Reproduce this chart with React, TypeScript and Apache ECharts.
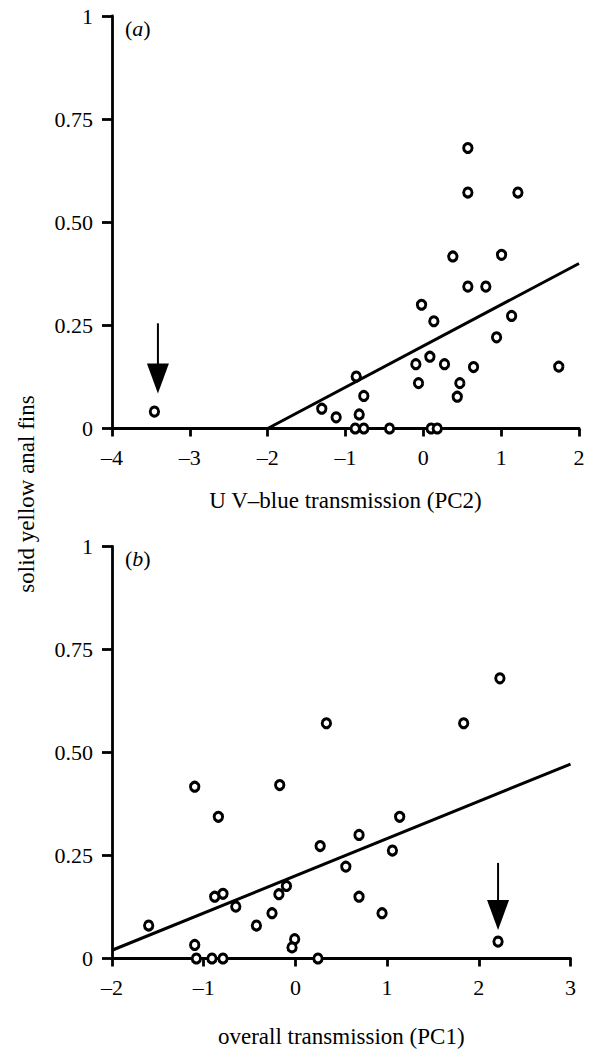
import React, { useEffect, useRef } from "react";
import * as echarts from "echarts";

// ---------- data ----------
const yTickLabels = ["0", "0.25", "0.50", "0.75", "1"];
const xTickLabelsA = ["–4", "–3", "–2", "–1", "0", "1", "2"];
const xTickLabelsB = ["–2", "–1", "0", "1", "2", "3"];

const xTitleA = "U V–blue transmission (PC2)";
const xTitleB = "overall transmission (PC1)";
const yTitle = "solid yellow anal fins";

// panel (a): [PC2, proportion]
const pointsA: number[][] = [
  [0.572, 0.68], [0.572, 0.572], [1.215, 0.572], [0.379, 0.417], [1.005, 0.421],
  [0.572, 0.344], [0.803, 0.344], [-0.023, 0.3], [0.135, 0.26], [1.134, 0.273],
  [0.941, 0.221], [-0.096, 0.156], [0.084, 0.174], [0.272, 0.156], [0.645, 0.149],
  [-0.062, 0.11], [0.469, 0.11], [0.436, 0.077], [-0.862, 0.126], [-0.765, 0.079],
  [-1.305, 0.048], [-1.12, 0.027], [-0.824, 0.034], [-0.875, 0], [-0.765, 0],
  [-0.434, 0], [0.1, 0], [0.179, 0], [1.74, 0.15], [-3.455, 0.041],
];
const regressionA: number[][] = [[-2, 0], [2, 0.4]];
// arrow: [x, yTop, yTip]
const arrowA: number[][] = [[-3.41, 0.255, 0.085]];

// panel (b): [PC1, proportion]
const pointsB: number[][] = [
  [0.338, 0.571], [-1.098, 0.417], [-0.171, 0.421], [-0.84, 0.344], [0.27, 0.273],
  [0.55, 0.223], [-0.098, 0.176], [-0.18, 0.156], [-0.79, 0.157], [-0.88, 0.15],
  [-0.65, 0.126], [-0.255, 0.11], [-0.425, 0.08], [-1.6, 0.08], [-1.098, 0.033],
  [-0.008, 0.047], [-0.037, 0.027], [-1.08, 0], [-0.91, 0], [-0.79, 0],
  [0.246, 0], [2.23, 0.68], [1.835, 0.571], [1.137, 0.344], [0.694, 0.3],
  [1.058, 0.262], [0.694, 0.15], [0.945, 0.11], [2.21, 0.041],
];
const regressionB: number[][] = [[-2, 0.02], [3, 0.472]];
const arrowB: number[][] = [[2.21, 0.232, 0.069]];

// ---------- style ----------
const FONT = "Liberation Serif";
const TICK_FONT = 22;
const TITLE_FONT = 23;
const AXIS_W = 2.8;

function App() {
  const ref = useRef<HTMLDivElement>(null);

  useEffect(() => {
    document.body.style.margin = "0";
    if (!ref.current) return;
    const chart = echarts.init(ref.current, undefined, { renderer: "svg" });

    const yAxisCommon = (gridIndex: number) => ({
      type: "value" as const,
      gridIndex,
      min: 0,
      max: 1,
      interval: 0.25,
      axisLine: { show: true, onZero: false, lineStyle: { color: "#000", width: AXIS_W } },
      axisTick: { show: true, inside: false, length: 10, lineStyle: { color: "#000", width: AXIS_W } },
      axisLabel: {
        margin: 19,
        color: "#000",
        fontFamily: FONT,
        fontSize: TICK_FONT,
        formatter: (v: number) => yTickLabels[Math.round(v / 0.25)] ?? "",
      },
      splitLine: { show: false },
    });

    const xAxisCommon = (gridIndex: number, min: number, max: number, labels: string[], name: string, nameGap: number) => ({
      type: "value" as const,
      gridIndex,
      min,
      max,
      interval: 1,
      name,
      nameLocation: "middle" as const,
      nameGap,
      nameTextStyle: { color: "#000", fontFamily: FONT, fontSize: TITLE_FONT },
      axisLine: { show: true, onZero: false, lineStyle: { color: "#000", width: AXIS_W } },
      axisTick: { show: true, inside: false, length: 8, lineStyle: { color: "#000", width: AXIS_W } },
      axisLabel: {
        margin: 18,
        color: "#000",
        fontFamily: FONT,
        fontSize: TICK_FONT,
        formatter: (v: number) => labels[Math.round(v - min)] ?? "",
      },
      splitLine: { show: false },
    });

    const scatterStyle = {
      type: "scatter" as const,
      symbol: "circle",
      symbolSize: [8.4, 9],
      itemStyle: { color: "#fff", borderColor: "#000", borderWidth: 3, opacity: 1 },
      z: 5,
    };

    const lineStyle = {
      type: "line" as const,
      showSymbol: false,
      symbol: "none",
      lineStyle: { color: "#000", width: 3 },
      z: 3,
    };

    const arrowRender = (params: any, api: any) => {
      const top = api.coord([api.value(0), api.value(1)]);
      const tip = api.coord([api.value(0), api.value(2)]);
      const headLen = 30;
      const headHalf = 11;
      return {
        type: "group",
        children: [
          {
            type: "line",
            shape: { x1: top[0], y1: top[1], x2: tip[0], y2: tip[1] - headLen + 2 },
            style: { stroke: "#000", lineWidth: 2 },
          },
          {
            type: "polygon",
            shape: {
              points: [
                [tip[0] - headHalf, tip[1] - headLen],
                [tip[0] + headHalf, tip[1] - headLen],
                [tip[0], tip[1]],
              ],
            },
            style: { fill: "#000" },
          },
        ],
      };
    };

    chart.setOption({
      animation: false,
      backgroundColor: "#fff",
      grid: [
        { left: 112, top: 16, width: 467, height: 412.5 },
        { left: 112, top: 546.5, width: 458.5, height: 412 },
      ],
      xAxis: [
        xAxisCommon(0, -4, 2, xTickLabelsA, xTitleA, 60),
        xAxisCommon(1, -2, 3, xTickLabelsB, xTitleB, 66),
      ],
      yAxis: [yAxisCommon(0), yAxisCommon(1)],
      graphic: [
        {
          type: "text",
          left: 125,
          top: 17,
          style: {
            text: "{n|(}{i|a}{n|)}",
            rich: {
              n: { fontFamily: FONT, fontSize: 22, fill: "#000" },
              i: { fontFamily: FONT, fontSize: 22, fontStyle: "italic", fill: "#000" },
            },
          },
        },
        {
          type: "text",
          left: 125,
          top: 547,
          style: {
            text: "{n|(}{i|b}{n|)}",
            rich: {
              n: { fontFamily: FONT, fontSize: 22, fill: "#000" },
              i: { fontFamily: FONT, fontSize: 22, fontStyle: "italic", fill: "#000" },
            },
          },
        },
        {
          type: "text",
          x: 26,
          y: 494,
          rotation: Math.PI / 2,
          style: {
            text: yTitle,
            fontFamily: FONT,
            fontSize: TITLE_FONT,
            fill: "#000",
            align: "center",
            verticalAlign: "middle",
          },
        },
      ],
      series: [
        { ...lineStyle, xAxisIndex: 0, yAxisIndex: 0, data: regressionA },
        { ...scatterStyle, xAxisIndex: 0, yAxisIndex: 0, data: pointsA },
        {
          type: "custom",
          xAxisIndex: 0,
          yAxisIndex: 0,
          data: arrowA,
          encode: { x: 0, y: [1, 2] },
          renderItem: arrowRender,
          z: 6,
        },
        { ...lineStyle, xAxisIndex: 1, yAxisIndex: 1, data: regressionB },
        { ...scatterStyle, xAxisIndex: 1, yAxisIndex: 1, data: pointsB },
        {
          type: "custom",
          xAxisIndex: 1,
          yAxisIndex: 1,
          data: arrowB,
          encode: { x: 0, y: [1, 2] },
          renderItem: arrowRender,
          z: 6,
        },
      ],
    });

    return () => chart.dispose();
  }, []);

  return <div ref={ref} style={{ width: 597, height: 1050 }} />;
}

export default App;
